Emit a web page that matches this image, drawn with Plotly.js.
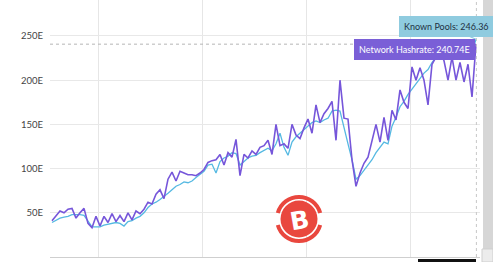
<!DOCTYPE html>
<html>
<head>
<meta charset="utf-8">
<script src="https://cdn.plot.ly/plotly-3.0.1.min.js"></script>
<style>html,body{margin:0;padding:0;background:#fff;overflow:hidden}#chart{width:493px;height:262px}</style>
</head>
<body>
<div id="chart"></div>
<script>
// Weekly samples (index), values in EH/s
const networkHashrate = [41,46,52,50,54,55,44,50,55,38,33,46,35,46,39,49,40,47,40,50,42,52,49,54,62,60,71,76,66,88,96,86,97,95,93,93,92,95,99,107,109,110,116,104,118,113,133,92,116,112,120,116,124,126,132,116,150,126,128,123,150,138,134,146,156,140,172,152,162,168,176,132,200,157,156,110,80,95,106,113,130,150,130,158,132,166,155,189,175,168,215,200,214,200,172,218,226,232,222,200,226,200,220,198,218,181,240.74];
const knownPools = [39,42,44,45,46,48,48,48,47,40,34,34,34,36,37,38,39,38,35,40,41,44,46,50,56,60,62,65,68,72,76,80,82,85,84,86,90,93,97,104,105,95,108,112,114,118,117,104,108,112,114,115,118,121,123,120,128,140,124,115,130,136,140,143,148,152,154,152,155,157,165,166,165,145,128,110,88,92,98,104,110,118,124,130,128,148,158,170,176,184,190,196,203,208,212,220,226,230,231,232,234,233,230,226,224,232,246.36];
const weeks = networkHashrate.map((_, i) => i);
const yTickVals = [0, 50, 100, 150, 200, 250];
const yTickText = ['0', '50E', '100E', '150E', '200E', '250E'];
const xGridVals = [11.5, 37.5, 63.5, 89.5];
const seriesNames = ['Network Hashrate', 'Known Pools'];

const last = weeks.length - 1;
const purple = '#7656da';
const cyan = '#55b9e2';
const tipFont = 'Lato, sans-serif';

const logoSvg = '<svg xmlns="http://www.w3.org/2000/svg" width="50" height="50" viewBox="0 0 50 50">' +
  '<circle cx="25" cy="25" r="18.5" fill="#e9473e"/>' +
  '<path d="M 3.8 19 A 22 22 0 0 1 46.2 19" stroke="#e9473e" stroke-width="4" fill="none"/>' +
  '<path d="M 3.8 31 A 22 22 0 0 0 46.2 31" stroke="#e9473e" stroke-width="4" fill="none"/>' +
  '</svg>';

const traces = [
  {x: weeks, y: knownPools, name: seriesNames[1], type: 'scatter', mode: 'lines',
   line: {color: cyan, width: 1.3}, hoverinfo: 'skip'},
  {x: weeks, y: networkHashrate, name: seriesNames[0], type: 'scatter', mode: 'lines',
   line: {color: purple, width: 1.6}, hoverinfo: 'skip'}
];

const layout = {
  width: 493, height: 262,
  margin: {l: 50, r: 13, t: 0, b: 5, pad: 0},
  paper_bgcolor: '#ffffff', plot_bgcolor: '#ffffff',
  showlegend: false,
  font: {family: 'Lato, "Open Sans", sans-serif', size: 10, color: '#444'},
  xaxis: {range: [-0.5, 107], tickvals: xGridVals, showticklabels: false, ticks: '',
          showgrid: true, gridcolor: '#e6e6e6', gridwidth: 1, zeroline: false, showline: false},
  yaxis: {range: [0, 290.7], tickvals: yTickVals, ticktext: yTickText, ticks: '',
          showgrid: true, gridcolor: '#e8e8e8', gridwidth: 1, zeroline: true, zerolinecolor: '#cfcfcf',
          zerolinewidth: 1, showline: false, tickfont: {size: 9.5, color: '#444'}, ticklabelstandoff: 6},
  images: [{source: 'data:image/svg+xml;utf8,' + encodeURIComponent(logoSvg),
            xref: 'paper', yref: 'paper', x: (274 - 50) / 430, y: (257 - 194) / 257,
            sizex: 50 / 430, sizey: 50 / 257, sizing: 'stretch', xanchor: 'left', yanchor: 'top', layer: 'above'}],
  shapes: [
    {type: 'line', xref: 'paper', yref: 'y', x0: 0, x1: (476 - 50) / 430, y0: networkHashrate[last], y1: networkHashrate[last],
     line: {color: '#b5b5b5', width: 1, dash: 'dot'}},
    {type: 'line', xref: 'x', yref: 'paper', x0: last + 0.1, x1: last + 0.1, y0: 0, y1: 1,
     line: {color: '#c8c8c8', width: 1, dash: 'dot'}},
    {type: 'rect', xref: 'paper', yref: 'paper', x0: (483 - 50) / 430, x1: (493 - 50) / 430, y0: -5 / 257, y1: 1,
     fillcolor: '#d6d6d6', line: {width: 0}},
    {type: 'rect', xref: 'paper', yref: 'paper', x0: (482 - 50) / 430, x1: (493 - 50) / 430, y0: -5 / 257, y1: (257 - 249) / 257,
     fillcolor: '#ececec', line: {color: '#cfcfcf', width: 1}},
    {type: 'rect', xref: 'paper', yref: 'paper', x0: (418 - 50) / 430, x1: (476 - 50) / 430, y0: -5 / 257, y1: -2 / 257,
     fillcolor: '#111', line: {width: 0}}
  ],
  annotations: [
    {xref: 'paper', yref: 'paper', x: (299 - 50) / 430, y: (257 - 220) / 257, xanchor: 'center', yanchor: 'middle',
     text: '<b>B</b>', showarrow: false, font: {family: '"DejaVu Sans", sans-serif', size: 25, color: '#ffffff'}, textangle: -10},
    {x: last, y: knownPools[last], xref: 'x', yref: 'y', text: seriesNames[1] + ': ' + knownPools[last].toFixed(2),
     showarrow: true, arrowhead: 0, arrowwidth: 1.2, arrowcolor: '#8fcbdf', ax: -30, ay: -13,
     bgcolor: '#8fcbdf', bordercolor: '#8fcbdf', borderpad: 4, font: {family: tipFont, size: 9, color: '#22313f'}},
    {x: last, y: networkHashrate[last], xref: 'x', yref: 'y', text: seriesNames[0] + ': ' + networkHashrate[last].toFixed(2) + 'E',
     showarrow: true, arrowhead: 0, arrowwidth: 1.2, arrowcolor: '#7a5fd7', ax: -62, ay: 5,
     bgcolor: '#7a5fd7', bordercolor: '#7a5fd7', borderpad: 4, font: {family: tipFont, size: 9, color: '#ffffff'}}
  ]
};

Plotly.newPlot('chart', traces, layout, {displayModeBar: false, staticPlot: true});
</script>
</body>
</html>
